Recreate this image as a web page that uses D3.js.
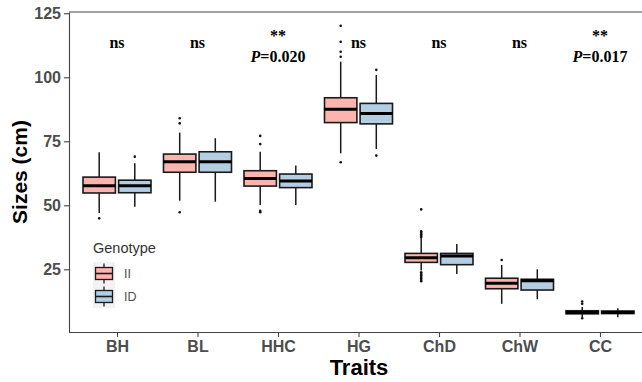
<!DOCTYPE html>
<html>
<head>
<meta charset="utf-8">
<script src="https://cdn.jsdelivr.net/npm/d3@7"></script>
<style>
  body { margin: 0; background: #fff; }
  svg { display: block; }
</style>
</head>
<body>
<div id="chart"></div>
<script>
// traits on the x axis
const traits = ['BH', 'BL', 'HHC', 'HG', 'ChD', 'ChW', 'CC'];
const genotypes = ['II', 'ID'];

// box stats per trait: [lower whisker, Q1, median, Q3, upper whisker]
const statsII = [
  [47.0, 54.8, 57.6, 61.0, 70.7],
  [51.8, 62.9, 67.0, 70.0, 78.4],
  [50.1, 57.5, 60.5, 63.5, 70.9],
  [70.3, 82.3, 87.5, 92.0, 106.1],
  [24.5, 27.7, 29.5, 31.2, 37.2],
  [11.5, 17.4, 19.5, 21.5, 26.7],
  [6.3, 7.6, 8.1, 8.8, 10.3]
];
const statsID = [
  [49.4, 54.9, 57.6, 59.8, 66.4],
  [51.4, 62.9, 67.0, 70.9, 76.2],
  [50.1, 56.9, 59.5, 62.2, 65.5],
  [72.0, 81.8, 85.9, 89.8, 100.9],
  [23.2, 26.8, 30.2, 31.2, 34.9],
  [13.3, 16.9, 20.5, 21.1, 25.0],
  [6.3, 7.7, 8.1, 8.7, 9.8]
];

// outliers per trait
const outliersII = [
  [44.9],
  [47.3, 82.0, 84.0],
  [47.3, 47.8, 73.9, 77.1],
  [66.8, 108.0, 110.0, 113.9, 120.1],
  [20.3, 20.8, 21.4, 22.0, 22.6, 23.2, 23.8, 37.6, 38.1, 38.7, 39.3, 39.8, 48.4],
  [28.6],
  [5.9, 11.5, 12.4]
];
const outliersID = [
  [69.0],
  [],
  [],
  [69.4, 102.9],
  [],
  [],
  []
];

// significance annotations
const sigLabels = ['ns', 'ns', '**', 'ns', 'ns', 'ns', '**'];
const pValues = ['', '', '0.020', '', '', '', '0.017'];

const yTicks = [25, 50, 75, 100, 125];
const fills = { II: '#FBB4AE', ID: '#B3CDE3' };

const width = 642, height = 382;
const plot = { left: 69, right: 642, top: 12, bottom: 332 };

const svg = d3.select('#chart').append('svg')
  .attr('width', width)
  .attr('height', height);

const x = d3.scalePoint()
  .domain(traits)
  .range([117, 600]);

const xg = d3.scaleBand()
  .domain(genotypes)
  .range([-34, 34])
  .paddingInner(0.09);

const y = d3.scaleLinear()
  .domain([0.5, 125.5])
  .range([plot.bottom, plot.top]);

// top frame line
svg.append('line')
  .attr('x1', plot.left).attr('x2', plot.right)
  .attr('y1', plot.top).attr('y2', plot.top)
  .attr('stroke', '#444').attr('stroke-width', 1.1);

// axes
const yAxis = svg.append('g')
  .attr('transform', 'translate(' + plot.left + ',0)')
  .call(d3.axisLeft(y).tickValues(yTicks).tickSize(5).tickSizeOuter(0).tickPadding(3));

const xAxis = svg.append('g')
  .attr('transform', 'translate(0,' + plot.bottom + ')')
  .call(d3.axisBottom(x).tickSize(5).tickPadding(4));

xAxis.select('.domain').attr('d', 'M' + plot.left + ',0.5H' + plot.right);

svg.selectAll('.domain, .tick line')
  .attr('stroke', '#444')
  .attr('stroke-width', 1.1);

svg.selectAll('.tick text')
  .attr('fill', '#4d4d4d')
  .style('font-family', 'Liberation Sans, Arial, sans-serif')
  .style('font-weight', 'bold')
  .style('font-size', '16px');

// axis titles
svg.append('text')
  .attr('x', 359).attr('y', 375)
  .attr('text-anchor', 'middle')
  .style('font-family', 'Liberation Sans, Arial, sans-serif')
  .style('font-weight', 'bold')
  .style('font-size', '22px')
  .text('Traits');

svg.append('text')
  .attr('transform', 'translate(27,' + ((plot.top + plot.bottom) / 2) + ') rotate(-90)')
  .attr('text-anchor', 'middle')
  .style('font-family', 'Liberation Sans, Arial, sans-serif')
  .style('font-weight', 'bold')
  .style('font-size', '21px')
  .text('Sizes (cm)');

// boxes
const rows = [];
traits.forEach((t, i) => {
  rows.push({ trait: t, g: 'II', s: statsII[i], out: outliersII[i] });
  rows.push({ trait: t, g: 'ID', s: statsID[i], out: outliersID[i] });
});

const boxW = xg.bandwidth();

const boxes = svg.append('g').selectAll('g.box')
  .data(rows)
  .enter()
  .append('g')
  .attr('class', 'box')
  .attr('transform', d => 'translate(' + (x(d.trait) + xg(d.g)) + ',0)');

boxes.append('line')
  .attr('x1', boxW / 2).attr('x2', boxW / 2)
  .attr('y1', d => y(d.s[0]))
  .attr('y2', d => y(d.s[4]))
  .attr('stroke', '#1a1a1a')
  .attr('stroke-width', 1.5);

boxes.append('rect')
  .attr('x', 0)
  .attr('width', boxW)
  .attr('y', d => y(d.s[3]))
  .attr('height', d => y(d.s[1]) - y(d.s[3]))
  .attr('fill', d => fills[d.g])
  .attr('stroke', '#1a1a1a')
  .attr('stroke-width', 1.6);

boxes.append('line')
  .attr('x1', 0).attr('x2', boxW)
  .attr('y1', d => y(d.s[2]))
  .attr('y2', d => y(d.s[2]))
  .attr('stroke', '#000')
  .attr('stroke-width', 3);

boxes.selectAll('circle')
  .data(d => d.out)
  .enter()
  .append('circle')
  .attr('cx', boxW / 2)
  .attr('cy', d => y(d))
  .attr('r', 1.3)
  .attr('fill', '#111');

// significance labels
const ann = svg.append('g')
  .style('font-family', 'Liberation Serif, Times New Roman, serif')
  .style('font-weight', 'bold')
  .style('font-size', '16px')
  .attr('text-anchor', 'middle');

traits.forEach((t, i) => {
  if (pValues[i]) {
    ann.append('text')
      .attr('x', x(t)).attr('y', 41)
      .text(sigLabels[i]);
    const p = ann.append('text')
      .attr('x', x(t)).attr('y', 61.5);
    p.append('tspan').style('font-style', 'italic').text('P');
    p.append('tspan').text('=' + pValues[i]);
  } else {
    ann.append('text')
      .attr('x', x(t)).attr('y', 48)
      .text(sigLabels[i]);
  }
});

// legend
const legend = svg.append('g').attr('transform', 'translate(93,262)');

legend.append('text')
  .attr('x', 0).attr('y', -9)
  .attr('fill', '#333')
  .style('font-family', 'Liberation Sans, Arial, sans-serif')
  .style('font-size', '14.5px')
  .text('Genotype');

const key = legend.selectAll('g.key')
  .data(genotypes)
  .enter()
  .append('g')
  .attr('class', 'key')
  .attr('transform', (d, i) => 'translate(0,' + (i * 23) + ')');

key.append('rect')
  .attr('width', 22).attr('height', 23)
  .attr('fill', '#f2f2f2');

key.append('line')
  .attr('x1', 11).attr('x2', 11)
  .attr('y1', 1.5).attr('y2', 21.5)
  .attr('stroke', '#1a1a1a').attr('stroke-width', 1.3);

key.append('rect')
  .attr('x', 2.5).attr('y', 5.5)
  .attr('width', 17).attr('height', 12)
  .attr('fill', d => fills[d])
  .attr('stroke', '#1a1a1a').attr('stroke-width', 1.3);

key.append('line')
  .attr('x1', 2.5).attr('x2', 19.5)
  .attr('y1', 11.5).attr('y2', 11.5)
  .attr('stroke', '#1a1a1a').attr('stroke-width', 1.6);

key.append('text')
  .attr('x', 31).attr('y', 16)
  .attr('fill', '#4d4d4d')
  .style('font-family', 'Liberation Sans, Arial, sans-serif')
  .style('font-size', '12.5px')
  .text(d => d);
</script>
</body>
</html>
